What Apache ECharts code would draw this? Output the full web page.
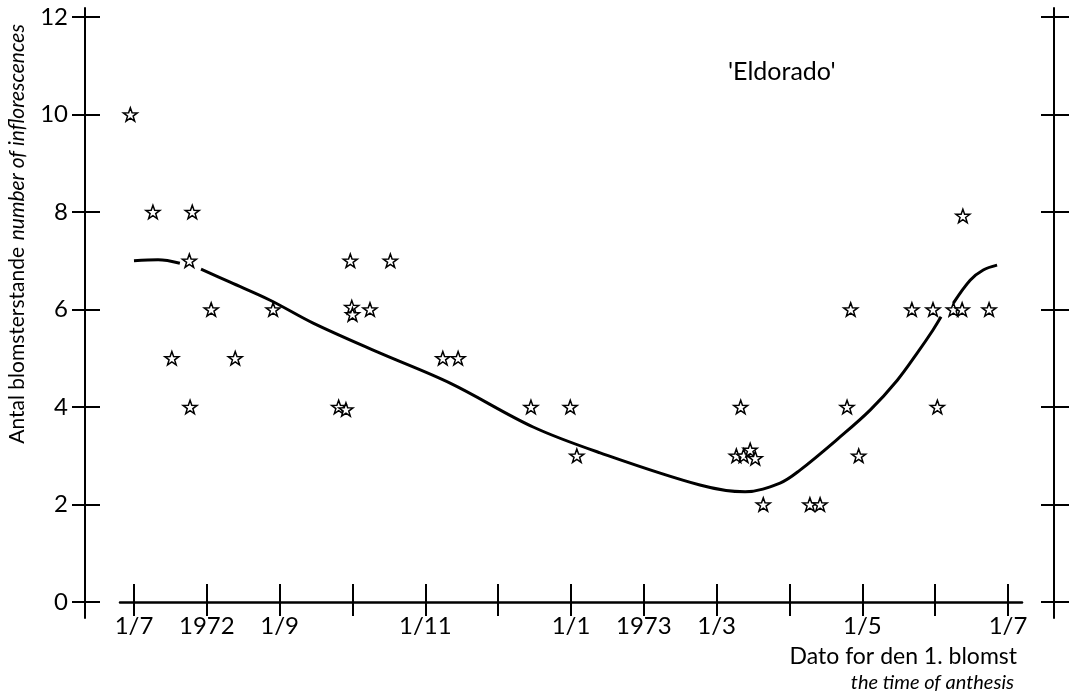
<!DOCTYPE html>
<html><head><meta charset="utf-8">
<script src="https://cdn.jsdelivr.net/npm/echarts@6/dist/echarts.min.js"></script>
<style>html,body{margin:0;padding:0;background:#fff}#c{width:1077px;height:693px}</style>
</head><body><div id="c"></div>
<script>
// x in months from 1 July 1972 (0) to 1 July 1973 (12)
const monthTicks = [0,1,2,3,4,5,6,7,8,9,10,11,12];
const xLabels = ['1/7','1972','1/9','','1/11','','1/1','1973','1/3','','1/5','','1/7'];
const yTicks = [0,2,4,6,8,10,12];

const starX = [-0.05,0.26,0.80,0.52,0.76,0.77,1.06,1.39,1.91,2.81,2.91,2.97,2.99,3.00,3.24,3.52,4.24,4.45,5.45,5.99,6.08,
  8.33,8.27,8.37,8.46,8.53,8.64,9.28,9.42,9.79,9.84,9.95,10.68,10.97,11.03,11.25,11.37,11.38,11.74];
const starY = [10,8,8,5,7,4,6,5,6,4,3.95,7,6.05,5.9,6,7,5,5,4,4,3,
  4,3,3,3.12,2.95,2,2,2,4,6,3,6,6,4,6,6,7.92,6];

const curveX = [0.00,0.33,0.63,null,0.92,1.32,1.87,2.46,3.34,4.34,5.48,6.40,7.77,8.39,8.87,9.14,9.69,10.11,10.48,10.75,10.97,11.08,null,11.25,11.48,11.66,11.85];
const curveY = [7.00,7.02,6.95,null,6.83,6.56,6.19,5.72,5.13,4.49,3.59,3.06,2.40,2.26,2.44,2.70,3.38,3.94,4.55,5.10,5.58,5.85,null,6.13,6.60,6.81,6.91];

const STAR = 'path://M50,0 L61.8,33.8 L97.6,34.5 L69,56.2 L79.4,90.5 L50,70 L20.6,90.5 L31,56.2 L2.4,34.5 L38.2,33.8 Z';
const FONT = 'Lato';
const BLACK = '#000';

const chart = echarts.init(document.getElementById('c'), null, {renderer:'canvas'});
const xMin = -0.192, xMax = 12.192;
const yAxMin = -0.328, yAxMax = 12.185;

const scatterData = starX.map((x,i)=>[x, starY[i]]);
const curveData = curveX.map((x,i)=> x===null ? ['-','-'] : [x, curveY[i]]);
const labelVals = monthTicks.filter(v => xLabels[v] !== '');

function yAx(pos, inside, len, labels, lineShow){
  return {gridIndex:1, type:'value', position:pos, min:yAxMin, max:yAxMax,
    axisLine:{show:lineShow, onZero:false, lineStyle:{color:BLACK,width:2}},
    axisTick:{show:true, inside:inside, length:len, customValues:yTicks, lineStyle:{color:BLACK,width:2}},
    axisLabel:{show:labels, customValues:yTicks, color:BLACK, fontFamily:FONT, fontSize:24, margin:17},
    splitLine:{show:false}};
}

chart.setOption({
  animation:false,
  backgroundColor:'#fff',
  title:[
    {text:"'Eldorado'", left:723, top:54, textStyle:{fontFamily:FONT, fontSize:25, fontWeight:'normal', color:BLACK}},
    {text:'Dato for den 1. blomst', right:55, top:640,
     textStyle:{fontFamily:FONT, fontSize:23, fontWeight:'normal', color:BLACK}},
    {text:'the time of anthesis', right:58, top:668,
     textStyle:{fontFamily:FONT, fontSize:20, fontWeight:'normal', fontStyle:'italic', color:BLACK}}
  ],
  graphic:[{type:'text', x:17, y:234, rotation:Math.PI/2,
    style:{text:'{a|Antal blomsterstande}  {b|number of inflorescences}', align:'center', verticalAlign:'middle',
      rich:{a:{fontFamily:FONT,fontSize:21,fill:BLACK,color:BLACK}, b:{fontFamily:FONT,fontSize:21,fontStyle:'italic',fill:BLACK,color:BLACK}}}}],
  grid:[
    {left:120, right:55, top:17, bottom:91},
    {left:85, right:23, top:8, bottom:75}
  ],
  xAxis:[
    {gridIndex:0, type:'value', position:'bottom', min:xMin, max:xMax,
     axisLine:{show:true, onZero:false, lineStyle:{color:BLACK,width:2.5}},
     axisTick:{show:true, inside:false, length:14, customValues:monthTicks, lineStyle:{color:BLACK,width:2}},
     axisLabel:{customValues:labelVals, formatter:v=>xLabels[Math.round(v)], color:BLACK, fontFamily:FONT, fontSize:24, margin:12},
     splitLine:{show:false}},
    {gridIndex:0, type:'value', position:'bottom', min:xMin, max:xMax,
     axisLine:{show:false, onZero:false},
     axisTick:{show:true, inside:true, length:18, customValues:monthTicks, lineStyle:{color:BLACK,width:2}},
     axisLabel:{show:false}, splitLine:{show:false}},
    {gridIndex:1, type:'value', min:0, max:1, show:false}
  ],
  yAxis:[
    {gridIndex:0, type:'value', min:0, max:12, show:false, splitLine:{show:false}},
    yAx('left', false, 13, true, true),
    yAx('left', true, 15, false, false),
    yAx('right', false, 15, false, true),
    yAx('right', true, 13, false, false)
  ],
  series:[
    {type:'line', xAxisIndex:0, yAxisIndex:0, data:curveData, smooth:0.35, showSymbol:false, connectNulls:false,
     lineStyle:{color:BLACK, width:3}, z:2, silent:true},
    {type:'scatter', xAxisIndex:0, yAxisIndex:0, data:scatterData, symbol:STAR, symbolSize:14, symbolKeepAspect:true,
     itemStyle:{color:'#fff', borderColor:BLACK, borderWidth:1.5, opacity:1}, z:3, silent:true}
  ]
});
</script></body></html>
